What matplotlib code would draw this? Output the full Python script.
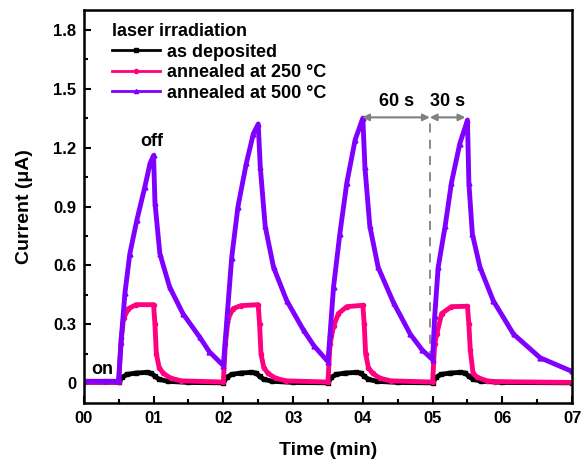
import matplotlib
matplotlib.use("Agg")
import matplotlib.pyplot as plt
from matplotlib.ticker import MultipleLocator

plt.rcParams["font.family"] = ["Liberation Sans", "DejaVu Sans"]
plt.rcParams["font.weight"] = "bold"

# values (time in min, current in uA)
t_500 = [0.0, 0.3, 0.49, 0.50, 0.54, 0.59, 0.66, 0.76, 0.875, 0.95, 1.0,
         1.02, 1.09, 1.23, 1.42, 1.66, 1.80, 2.0,
         2.05, 2.12, 2.21, 2.33, 2.43, 2.5,
         2.53, 2.60, 2.72, 2.91, 3.15, 3.30, 3.5,
         3.53, 3.58, 3.67, 3.77, 3.89, 4.0,
         4.03, 4.10, 4.22, 4.44, 4.68, 4.85, 5.0,
         5.03, 5.08, 5.18, 5.27, 5.39, 5.5,
         5.52, 5.57, 5.68, 5.87, 6.16, 6.54, 7.0]
i_500 = [0.01, 0.01, 0.01, 0.02, 0.24, 0.46, 0.66, 0.83, 1.00, 1.12, 1.16,
         0.92, 0.66, 0.49, 0.355, 0.235, 0.16, 0.09,
         0.32, 0.64, 0.90, 1.12, 1.27, 1.32,
         1.10, 0.80, 0.59, 0.42, 0.27, 0.19, 0.11,
         0.25, 0.49, 0.76, 1.02, 1.24, 1.35,
         1.10, 0.80, 0.59, 0.41, 0.25, 0.17, 0.12,
         0.34, 0.59, 0.80, 1.02, 1.22, 1.34,
         1.02, 0.76, 0.59, 0.42, 0.25, 0.13, 0.06]

t_250 = [0.0, 0.5, 0.53, 0.57, 0.64, 0.75, 1.0, 1.02, 1.04, 1.08, 1.14, 1.25, 1.4, 2.0,
         2.03, 2.07, 2.14, 2.25, 2.5, 2.52, 2.54, 2.58, 2.64, 2.75, 2.9, 3.5,
         3.53, 3.58, 3.65, 3.77, 4.0, 4.02, 4.04, 4.08, 4.14, 4.25, 4.4, 5.0,
         5.03, 5.06, 5.13, 5.27, 5.5, 5.52, 5.54, 5.58, 5.64, 5.78, 5.9, 7.0]
i_250 = [0.005, 0.005, 0.20, 0.33, 0.38, 0.40, 0.40, 0.30, 0.15, 0.08, 0.05, 0.025, 0.012, 0.006,
         0.20, 0.33, 0.38, 0.395, 0.40, 0.30, 0.15, 0.08, 0.05, 0.025, 0.012, 0.006,
         0.20, 0.29, 0.355, 0.39, 0.397, 0.30, 0.15, 0.08, 0.05, 0.025, 0.012, 0.006,
         0.20, 0.25, 0.355, 0.39, 0.392, 0.30, 0.17, 0.05, 0.03, 0.012, 0.008, 0.004]

t_dep = [0.0, 0.5, 0.55, 0.62, 0.75, 0.9, 0.97, 1.02, 1.08, 1.2, 1.5, 2.0,
         2.05, 2.12, 2.25, 2.4, 2.47, 2.52, 2.58, 2.7, 3.0, 3.5,
         3.55, 3.62, 3.75, 3.9, 3.97, 4.02, 4.08, 4.2, 4.5, 5.0,
         5.05, 5.12, 5.25, 5.4, 5.47, 5.52, 5.58, 5.7, 6.0, 7.0]
i_dep = [0.005, 0.005, 0.03, 0.045, 0.052, 0.055, 0.05, 0.035, 0.02, 0.01, 0.004, 0.002,
         0.03, 0.045, 0.052, 0.055, 0.052, 0.035, 0.02, 0.01, 0.004, 0.002,
         0.03, 0.045, 0.052, 0.055, 0.052, 0.035, 0.02, 0.01, 0.004, 0.002,
         0.03, 0.045, 0.052, 0.055, 0.052, 0.035, 0.02, 0.01, 0.004, 0.002]

x_ticks = [0, 1, 2, 3, 4, 5, 6, 7]
x_labels = ["00", "01", "02", "03", "04", "05", "06", "07"]
y_ticks = [0, 0.3, 0.6, 0.9, 1.2, 1.5, 1.8]
y_labels = ["0", "0.3", "0.6", "0.9", "1.2", "1.5", "1.8"]

fig = plt.figure(figsize=(5.82, 4.62), dpi=100)
ax = fig.add_axes([0.144, 0.128, 0.839, 0.850])

ax.plot(t_dep, i_dep, color="black", lw=3.5, marker="s", ms=3, label="as deposited")
ax.plot(t_250, i_250, color="#ff0080", lw=3.5, marker="o", ms=3, label="annealed at 250 \u00b0C")
ax.plot(t_500, i_500, color="#8000ff", lw=3.5, marker="^", ms=3.5, label="annealed at 500 \u00b0C")

ax.set_xlim(0, 7)
ax.set_ylim(-0.1, 1.9)
ax.set_xticks(x_ticks)
ax.set_xticklabels(x_labels)
ax.set_yticks(y_ticks)
ax.set_yticklabels(y_labels)
ax.xaxis.set_minor_locator(MultipleLocator(0.5))
ax.yaxis.set_minor_locator(MultipleLocator(0.15))
ax.tick_params(which="both", direction="in", width=1.5, labelsize=12)
ax.tick_params(axis="x", pad=6)
ax.tick_params(axis="y", pad=5.5)
ax.tick_params(which="major", length=5)
ax.tick_params(which="minor", length=3)
for s in ax.spines.values():
    s.set_linewidth(1.8)

ax.set_xlabel("Time (min)", fontsize=14, fontweight="bold")
ax.set_ylabel("Current (\u03bcA)", fontsize=14, fontweight="bold")
ax.xaxis.set_label_coords(0.5, -0.10)
ax.yaxis.set_label_coords(-0.105, 0.5)

# annotations
ax.text(0.27, 0.07, "on", fontsize=13, ha="center", va="center")
ax.text(0.97, 1.23, "off", fontsize=13, ha="center", va="center")
ax.plot([4.96, 4.96], [0.12, 1.35], color="gray", ls=(0, (5, 4)), lw=1.3, zorder=0)
arr = dict(arrowstyle="<|-|>", color="gray", lw=1.5, mutation_scale=10, shrinkA=0, shrinkB=0)
ax.annotate("", xy=(3.99, 1.354), xytext=(4.96, 1.354), arrowprops=arr)
ax.annotate("", xy=(4.96, 1.354), xytext=(5.47, 1.354), arrowprops=arr)
ax.text(4.48, 1.433, "60 s", fontsize=13, ha="center", va="center")
ax.text(5.22, 1.433, "30 s", fontsize=13, ha="center", va="center")

leg = ax.legend(loc="upper left", bbox_to_anchor=(0.035, 0.995), frameon=False,
                title="laser irradiation", fontsize=13, handlelength=2.7,
                handletextpad=0.35, labelspacing=0.2, borderaxespad=0.2)
leg.get_title().set_fontsize(13)
leg.get_title().set_fontweight("bold")
leg._legend_box.align = "left"
for h in leg.legend_handles:
    h.set_linewidth(2)
    h.set_markersize(3)

fig.savefig("out.png", dpi=100)
